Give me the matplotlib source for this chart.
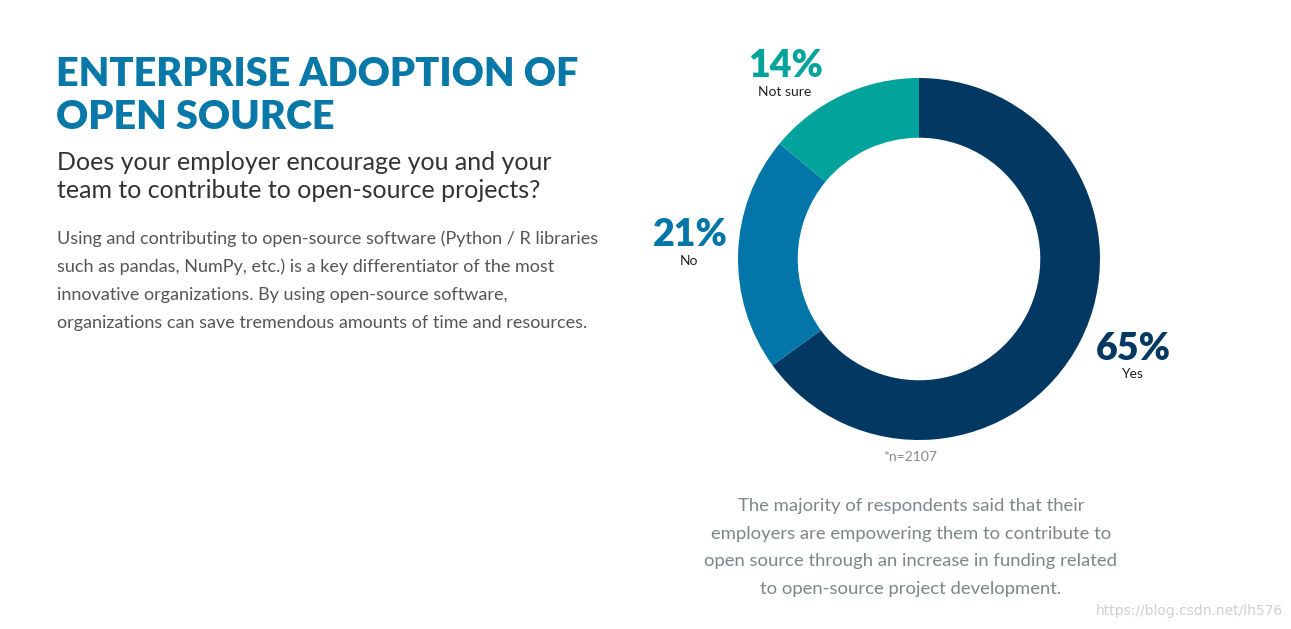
import matplotlib
matplotlib.use("Agg")
import matplotlib.pyplot as plt

categories = ["Yes", "No", "Not sure"]
values = [65, 21, 14]
colors = ["#033863", "#0276A8", "#02A39B"]
pct_labels = ["65%", "21%", "14%"]

title_lines = ["ENTERPRISE ADOPTION OF", "OPEN SOURCE"]
subtitle_lines = ["Does your employer encourage you and your",
                  "team to contribute to open-source projects?"]
body_lines = ["Using and contributing to open-source software (Python / R libraries",
              "such as pandas, NumPy, etc.) is a key differentiator of the most",
              "innovative organizations. By using open-source software,",
              "organizations can save tremendous amounts of time and resources."]
bottom_lines = ["The majority of respondents said that their",
                "employers are empowering them to contribute to",
                "open source through an increase in funding related",
                "to open-source project development."]
footnote = "*n=2107"
watermark = "https://blog.csdn.net/lh576"

W, H = 1291, 629
fig = plt.figure(figsize=(W / 100, H / 100), dpi=100)
fig.patch.set_facecolor("white")

def fx(px):
    return px / W

def fy(py):
    return 1 - py / H

# donut
cx, cy, R = 919, 259, 181
ax = fig.add_axes([fx(cx - R), fy(cy + R), 2 * R / W, 2 * R / H])
ax.pie(values, colors=colors, startangle=90, counterclock=False, radius=1,
       wedgeprops=dict(width=0.33, edgecolor="none"))
ax.set_xlim(-1, 1)
ax.set_ylim(-1, 1)
ax.set_aspect("equal")
ax.axis("off")

FONT = "Lato"

# percent labels
label_pos = {"Yes": (1133, 349, 1132, 374),
             "No": (690, 235, 689, 261),
             "Not sure": (786, 66, 785, 92)}
for cat, col, pl in zip(categories, colors, pct_labels):
    px, py, lx, ly = label_pos[cat]
    fig.text(fx(px), fy(py), pl, color=col, fontsize=27, fontweight="heavy",
             family=FONT, ha="center", va="center")
    fig.text(fx(lx), fy(ly), cat, color="#222222", fontsize=10,
             family=FONT, ha="center", va="center")

fig.text(fx(910), fy(457), footnote, color="#8a8a8a", fontsize=10,
         family=FONT, ha="center", va="center")

# title
for i, line in enumerate(title_lines):
    fig.text(fx(56), fy(75 + i * 43), line, color="#0778A8", fontsize=28.5,
             fontweight="heavy", family=FONT, ha="left", va="center")

for i, line in enumerate(subtitle_lines):
    fig.text(fx(57), fy(163 + i * 28), line, color="#333333", fontsize=18,
             family=FONT, ha="left", va="center")

for i, line in enumerate(body_lines):
    fig.text(fx(57), fy(239 + i * 28), line, color="#555555", fontsize=13,
             family=FONT, ha="left", va="center")

for i, line in enumerate(bottom_lines):
    fig.text(fx(911), fy(506 + i * 27.7), line, color="#7C8789", fontsize=13.3,
             family=FONT, ha="center", va="center")

fig.text(fx(1283), fy(611), watermark, color="#d0d0d0", fontsize=10,
         family="DejaVu Sans", ha="right", va="center")

fig.savefig("out.png", dpi=100, facecolor="white")
